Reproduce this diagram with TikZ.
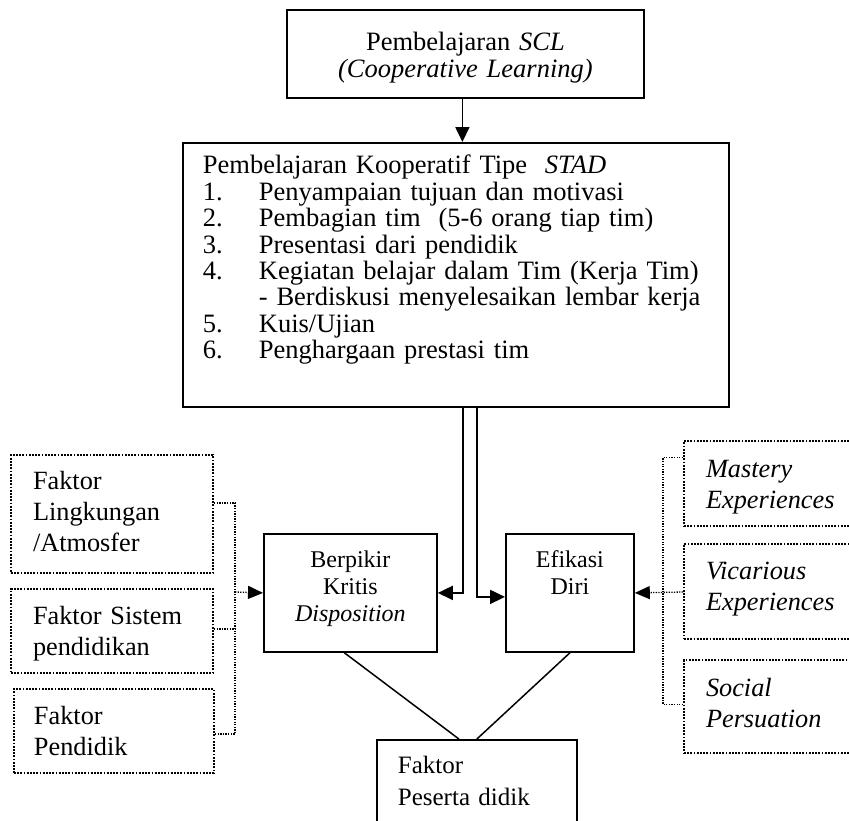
\documentclass[tikz,border=0pt]{standalone}
\usepackage{fontspec}
\setmainfont{Liberation Serif}
\usetikzlibrary{arrows.meta,calc}

\newcommand{\fmain}{\fontsize{26.5}{26.4}\selectfont}
\newcommand{\fside}{\fontsize{26.3}{31}\selectfont}
\newcommand{\fsmall}{\fontsize{24}{27}\selectfont}
\newcommand{\fpes}{\fontsize{25}{32}\selectfont}

\tikzset{
  box/.style={draw, line width=1.8pt, inner xsep=0pt, inner ysep=0pt, anchor=north west},
  dotbox/.style={draw, line width=2pt, dash pattern=on 1.8pt off 1.4pt, inner xsep=22pt, inner ysep=0pt, anchor=north west, align=left, font=\fside, text width=158pt},
  arr/.style={line width=1.8pt, -{Triangle[length=15pt,width=14pt]}},
  dotline/.style={line width=1.3pt, dash pattern=on 1.3pt off 1.3pt},
  dotarr/.style={dotline, -{Triangle[length=15pt,width=13pt]}},
}

\begin{document}
\begin{tikzpicture}[x=1pt,y=1pt,yscale=-1,xscale=1]
\useasboundingbox (0,0) rectangle (849,820);

\node [box, font=\fmain, text width=357pt, align=center, text height=41pt, text depth=47pt] (scl) at (286,9) {Pembelajaran \textit{SCL}\\\textit{(Cooperative Learning)}};
\node [box, font=\fmain, inner xsep=20pt, text width=506pt, align=left, text height=31pt, text depth=233pt] (stad) at (182,142) {Pembelajaran Kooperatif Tipe\ \ \textit{STAD}\\
\makebox[56pt][l]{1.}Penyampaian tujuan dan motivasi\\
\makebox[56pt][l]{2.}Pembagian tim\ \ (5-6 orang tiap tim)\\
\makebox[56pt][l]{3.}Presentasi dari pendidik\\
\makebox[56pt][l]{4.}Kegiatan belajar dalam Tim (Kerja Tim)\\
\hspace*{56pt}- Berdiskusi menyelesaikan lembar kerja\\
\makebox[56pt][l]{5.}Kuis/Ujian\\
\makebox[56pt][l]{6.}Penghargaan prestasi tim};

\node [box, font=\fsmall, text width=173pt, align=center, text height=34pt, text depth=84pt] (berpikir) at (263,533) {Berpikir\\Kritis\\\textit{Disposition}};
\node [box, font=\fsmall, text width=128pt, align=center, text height=34pt, text depth=84pt] (efikasi) at (505,533) {Efikasi\\Diri};
\node [box, font=\fpes, inner xsep=21pt, text width=158pt, align=left, text height=34pt, text depth=57pt] (peserta) at (376,739) {Faktor\\Peserta didik};

\node [dotbox, text height=34pt, text depth=84pt] (lingk) at (10,454) {Faktor\\Lingkungan\\/Atmosfer};
\node [dotbox, text height=35pt, text depth=49pt] (sistem) at (10,588) {Faktor Sistem\\pendidikan};
\node [dotbox, inner xsep=20pt, text width=160pt, text height=35pt, text depth=49pt] (pendidik) at (13,688) {Faktor\\Pendidik};

\node [dotbox, text width=156pt, text height=36pt, text depth=49pt] (mastery) at (683,440) {\textit{Mastery}\\\textit{Experiences}};
\node [dotbox, text width=156pt, text height=35pt, text depth=60pt] (vicar) at (683,543) {\textit{Vicarious}\\\textit{Experiences}};
\node [dotbox, text width=156pt, text height=36pt, text depth=57pt] (social) at (683,659) {\textit{Social}\\\textit{Persuation}};

\coordinate (sclout) at ($(scl.south)+(-3,0)$);
\draw [arr] (sclout) -- (sclout |- stad.north);
\coordinate (lout) at ($(stad.south)+(7,0)$);
\coordinate (rout) at ($(stad.south)+(21,0)$);
\coordinate (rin) at ($(efikasi.west)+(0,4)$);
\draw [arr] (lout) |- (berpikir.east);
\draw [arr] (rout) |- (rin);

\draw [line width=1.5pt] ($(berpikir.south)+(-6,0)$) -- ($(peserta.north)+(-18,0)$);
\draw [line width=1.5pt] (efikasi.south) -- (peserta.north);

\coordinate (lbus) at (235,592);
\draw [dotline] ($(lingk.east)+(0,-11)$) -| (lbus);
\draw [dotline] ($(sistem.east)+(0,-2)$) -| (lbus);
\draw [dotline] ($(pendidik.east)+(0,3)$) -| (lbus);
\draw [dotarr] (lbus) -- (berpikir.west);

\coordinate (rbus) at (663,592);
\draw [dotline] ($(mastery.west)+(0,-26)$) -| (rbus);
\draw [dotline] ($(social.west)+(0,-2)$) -| (rbus);
\draw [dotarr] (vicar.west |- rbus) -- (efikasi.east);
\end{tikzpicture}
\end{document}
